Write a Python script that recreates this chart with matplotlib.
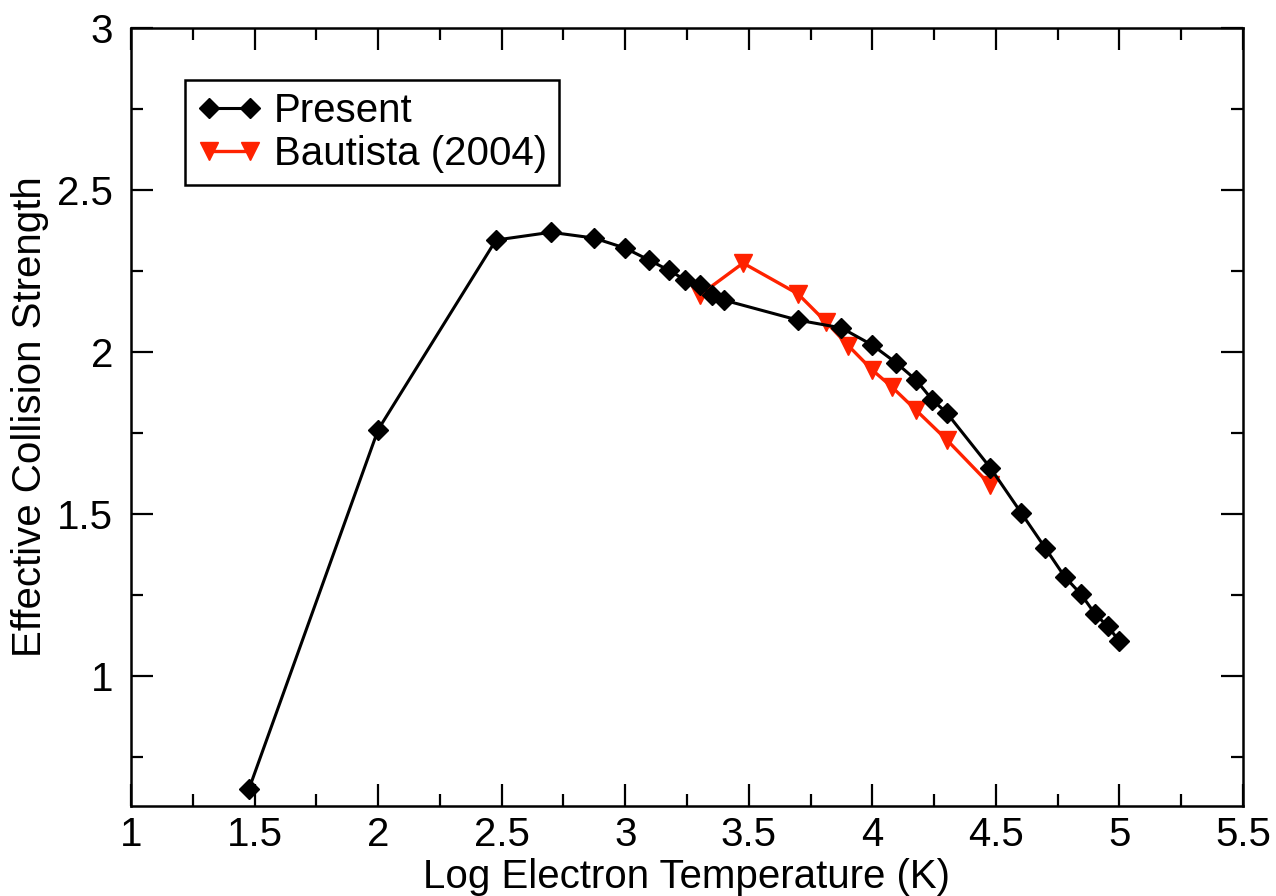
import numpy as np
import matplotlib
matplotlib.use("Agg")
import matplotlib.pyplot as plt
from matplotlib.ticker import MultipleLocator

plt.rcParams['font.family'] = ['Liberation Sans', 'DejaVu Sans']

# log10 T (K) and effective collision strength
present_logt = [1.477, 2.0, 2.477, 2.699, 2.875, 3.0, 3.097, 3.176, 3.243, 3.301,
                3.352, 3.398, 3.699, 3.875, 4.0, 4.097, 4.176, 4.243, 4.301, 4.477,
                4.602, 4.699, 4.778, 4.845, 4.903, 4.954, 5.0]
present_ups = [0.652, 1.761, 2.346, 2.37, 2.352, 2.321, 2.284, 2.253, 2.223, 2.207,
               2.176, 2.161, 2.099, 2.075, 2.022, 1.967, 1.915, 1.853, 1.813, 1.644,
               1.505, 1.397, 1.308, 1.253, 1.191, 1.154, 1.108]

bautista_logt = [3.301, 3.477, 3.699, 3.813, 3.903, 4.0, 4.079, 4.176, 4.301, 4.477]
bautista_ups = [2.176, 2.275, 2.18, 2.093, 2.02, 1.945, 1.893, 1.822, 1.73, 1.591]

FS = 29

fig = plt.figure(figsize=(12.76, 8.96), dpi=100)
ax = fig.add_axes([0.1027, 0.1004, 0.8714, 0.8683])

ax.plot(present_logt, present_ups, color='black', lw=2.2, marker='D', ms=10,
        label='Present', zorder=3)
ax.plot(bautista_logt, bautista_ups, color='#ff2200', lw=2.4, marker='v', ms=13,
        label='Bautista (2004)', zorder=2)

ax.set_xlim(1, 5.5)
ax.set_ylim(0.6, 3)
ax.xaxis.set_major_locator(MultipleLocator(0.5))
ax.xaxis.set_minor_locator(MultipleLocator(0.25))
ax.yaxis.set_major_locator(MultipleLocator(0.5))
ax.yaxis.set_minor_locator(MultipleLocator(0.25))

def fmt(v, pos):
    return ('%g' % v)
ax.xaxis.set_major_formatter(plt.FuncFormatter(fmt))
ax.yaxis.set_major_formatter(plt.FuncFormatter(fmt))

ax.tick_params(which='both', direction='in', top=True, right=True, width=1.6,
               labelsize=FS)
ax.tick_params(which='major', length=16)
ax.tick_params(which='minor', length=8.5)
ax.tick_params(axis='x', which='major', pad=7)
ax.tick_params(axis='y', which='major', pad=13)
for s in ax.spines.values():
    s.set_linewidth(1.8)

ax.set_xlabel('Log Electron Temperature (K)', fontsize=FS, labelpad=3)
ax.set_ylabel('Effective Collision Strength', fontsize=FS, labelpad=6)

leg = ax.legend(loc='upper left', bbox_to_anchor=(0.0486, 0.933), fontsize=FS,
                numpoints=2, fancybox=False, edgecolor='black', framealpha=1,
                handlelength=1.6, handletextpad=0.3, borderpad=0.3,
                labelspacing=0.12, borderaxespad=0)
leg.get_frame().set_linewidth(1.8)

fig.savefig('out.png', dpi=100)
